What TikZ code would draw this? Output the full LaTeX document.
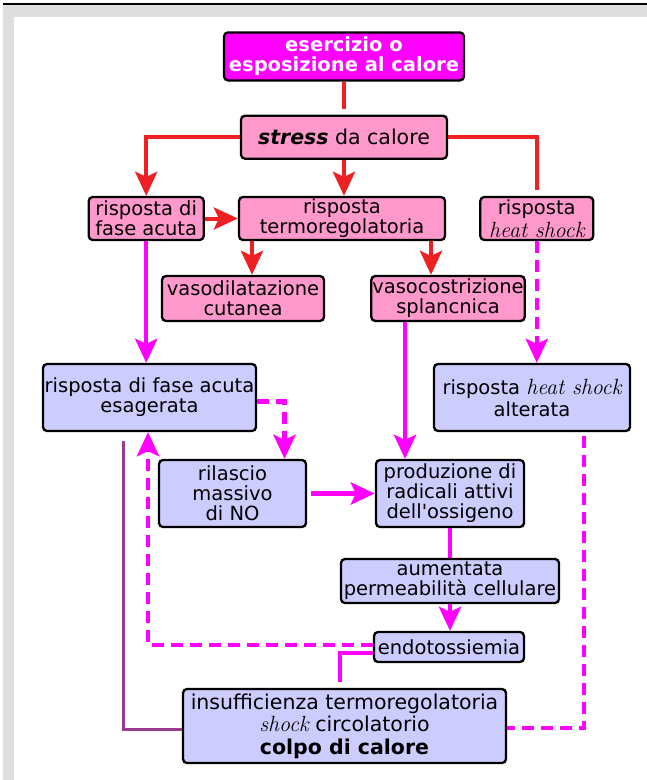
\documentclass[tikz,border=0pt]{standalone}
\usepackage{fontspec}
\setsansfont{DejaVu Sans}
\usetikzlibrary{arrows.meta,positioning}

\definecolor{pinkfill}{HTML}{FF99CC}
\definecolor{bluefill}{HTML}{CCCCFF}
\definecolor{magcol}{HTML}{FF00FF}
\definecolor{redcol}{HTML}{EE2024}
\definecolor{purplecol}{HTML}{993D8C}
\definecolor{framegray}{HTML}{DEDEDE}

\newcommand{\hsit}[1]{{\rmfamily\itshape\fontsize{22}{20}\selectfont #1}}

\begin{document}
\begin{tikzpicture}[x=1pt,y=1pt,>={Stealth[length=24pt,width=22pt,inset=5pt]},node distance=33pt,
    mapbox/.style={rectangle, rounded corners=4pt, draw=black, line width=2.3pt, align=center, inner sep=1pt,
                   font=\sffamily\fontsize{19.5}{20}\selectfont},
    pinkbox/.style={mapbox, fill=pinkfill},
    bluebox/.style={mapbox, fill=bluefill},
    redline/.style={draw=redcol, line width=4pt},
    magline/.style={draw=magcol, line width=4.5pt},
    magdash/.style={magline, dash pattern=on 12pt off 7pt}]
  \useasboundingbox (0,0) rectangle (647,-780);
  % cornice
  \fill[framegray] (3,-5) rectangle (647,-17);
  \fill[framegray] (3,-5) rectangle (14,-780);
  \draw[line width=2pt] (3,-4) -- (647,-4);

  \node[pinkbox, minimum width=206pt, minimum height=43pt]                          (tr) at (342,-218.5) {risposta\\termoregolatoria};
  \node[pinkbox, minimum width=115pt, minimum height=43pt, left=of tr]              (fa) {risposta di\\fase acuta};
  \node[pinkbox, minimum width=113pt, minimum height=43pt, right=of tr]             (hs) {risposta\\[3pt]\hsit{heat shock}};
  \node[pinkbox, minimum width=206pt, minimum height=43pt, above=36pt of tr, xshift=2pt,
        font=\sffamily\fontsize{20.5}{22}\selectfont]                               (stress) {\textbf{\textit{stress}} da calore};
  \node[mapbox, fill=magcol, text=white, minimum width=240pt, minimum height=48pt, above=33pt of stress,
        font=\sffamily\bfseries\fontsize{19.5}{20}\selectfont]                      (ex) {esercizio o\\esposizione al calore};
  \node[pinkbox, minimum width=162pt, minimum height=45pt]                          (vd) at (243,-298.5) {vasodilatazione\\cutanea};
  \node[pinkbox, minimum width=150pt, minimum height=45pt]                          (vc) at (448,-298.5) {vasocostrizione\\splancnica};
  \node[bluebox, minimum width=213pt, minimum height=67pt]                          (ea) at (149.5,-397.5) {risposta di fase acuta\\esagerata};
  \node[bluebox, minimum width=196pt, minimum height=67pt]                          (al) at (532,-397.5) {risposta \hsit{heat shock}\\[2pt]alterata};
  \node[bluebox, minimum width=147pt, minimum height=67pt]                          (no) at (232.5,-493.5) {rilascio\\massivo\\di NO};
  \node[bluebox, minimum width=148pt, minimum height=67pt]                          (ros) at (450,-493.5) {produzione di\\radicali attivi\\dell\textquotesingle ossigeno};
  \node[bluebox, minimum width=218pt, minimum height=44pt]                          (pc) at (450,-581) {aumentata\\permeabilità cellulare};
  \node[bluebox, minimum width=150pt, minimum height=30pt]                          (en) at (449,-647) {endotossiemia};
  \node[bluebox, minimum width=323pt, minimum height=74pt,
        font=\sffamily\fontsize{20.5}{22.5}\selectfont]                             (ins) at (344.5,-726) {insufficienza termoregolatoria\\\hsit{shock} circolatorio\\\textbf{colpo di calore}};

  % risposte allo stress
  \draw[redline, shorten >=6pt] (ex.south) -- (ex.south |- stress.north);
  \draw[redline, ->] (stress.west) -| (fa.north);
  \draw[redline, ->] (stress.south) -- (stress.south |- tr.north);
  \draw[redline, shorten >=6pt] (stress.east) -| (hs.north);
  \draw[redline, ->] (fa.east) -- (tr.west);
  \draw[redline, ->] ([xshift=9pt]vd.north |- tr.south) -- ([xshift=9pt]vd.north);
  \draw[redline, ->] ([xshift=-17pt]vc.north |- tr.south) -- ([xshift=-17pt]vc.north);

  % verso il colpo di calore
  \draw[magline, ->] (fa.south) -- (fa.south |- ea.north);
  \draw[magdash, ->] (hs.south) -- (hs.south |- al.north);
  \draw[magline, ->] ([xshift=-43pt]vc.south) -- ([xshift=-43pt]vc.south |- ros.north);
  \draw[magdash, ->] ([yshift=-4pt]ea.east) -| ([xshift=52pt]no.north);
  \draw[magline, ->, shorten <=4pt] (no.east) -- (ros.west);
  \draw[magline] (ros.south) -- (ros.south |- pc.north);
  \draw[magline, ->] (pc.south) -- (pc.south |- en.north);
  \draw[magdash, ->] ([yshift=2pt]en.west) -| ([xshift=-1.5pt]ea.south);
  \draw[magline, shorten >=6pt] ([yshift=-6pt]en.west) -| ([xshift=-4.5pt]ins.north);
  \draw[magdash, shorten <=4pt] ([xshift=52pt]al.south) |- ([yshift=-2pt]ins.east);
  \draw[draw=purplecol, line width=3pt, shorten <=9pt] ([xshift=-26.5pt]ea.south) |- ([yshift=-3pt]ins.west);
\end{tikzpicture}
\end{document}
